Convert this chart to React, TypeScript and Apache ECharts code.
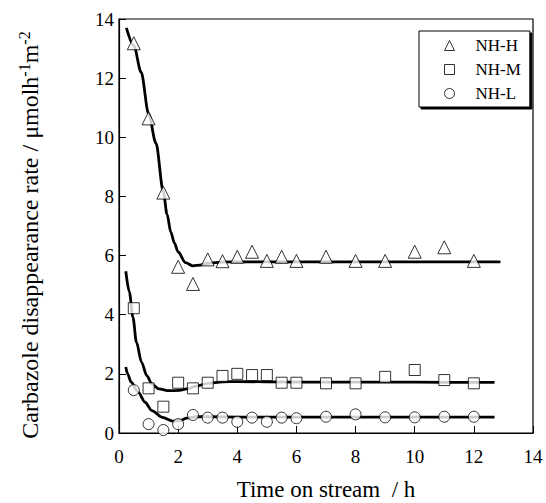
import React, { useEffect, useRef } from "react";
import * as echarts from "echarts";

const sampleTimes = [0.5, 1, 1.5, 2, 2.5, 3, 3.5, 4, 4.5, 5, 5.5, 6, 7, 8, 9, 10, 11, 12];
const nhH = [13.18, 10.64, 8.13, 5.62, 5.04, 5.87, 5.81, 5.96, 6.13, 5.82, 5.96, 5.82, 5.96, 5.82, 5.82, 6.13, 6.28, 5.82];
const nhM = [4.22, 1.51, 0.89, 1.7, 1.51, 1.7, 1.93, 2.0, 1.96, 1.96, 1.7, 1.7, 1.68, 1.68, 1.9, 2.13, 1.79, 1.68];
const nhL = [1.45, 0.3, 0.1, 0.3, 0.61, 0.52, 0.52, 0.38, 0.52, 0.38, 0.52, 0.5, 0.55, 0.63, 0.53, 0.53, 0.55, 0.55];

const fitHx = [0.25, 0.5, 0.75, 1, 1.25, 1.5, 1.625, 1.75, 1.875, 2, 2.25, 2.5, 2.75, 3, 3.5, 4, 5, 6, 8, 10, 12, 12.9];
const fitHy = [13.7, 13.1, 12.2, 10.8, 9.8, 8.15, 7.4, 6.8, 6.42, 6.12, 5.76, 5.65, 5.68, 5.74, 5.78, 5.79, 5.79, 5.79, 5.79, 5.79, 5.79, 5.79];
const fitMx = [0.23, 0.35, 0.47, 0.59, 0.76, 0.94, 1.11, 1.35, 1.7, 2.05, 2.29, 2.6, 3, 3.5, 4, 6, 8, 10, 12, 12.7];
const fitMy = [5.47, 4.77, 3.92, 3.07, 2.4, 1.94, 1.66, 1.49, 1.43, 1.44, 1.49, 1.58, 1.68, 1.73, 1.74, 1.72, 1.72, 1.72, 1.71, 1.71];
const fitLx = [0.23, 0.29, 0.41, 0.65, 0.88, 1.11, 1.47, 1.82, 2.05, 2.29, 2.6, 3, 4, 6, 8, 10, 12, 12.7];
const fitLy = [2.23, 2.0, 1.72, 1.38, 1.04, 0.76, 0.53, 0.4, 0.42, 0.5, 0.55, 0.55, 0.54, 0.54, 0.54, 0.54, 0.54, 0.54];

const seriesNames = ["NH-H", "NH-M", "NH-L"];

const zip = (xs: number[], ys: number[]) => xs.map((x, i) => [x, ys[i]]);

const FONT = "Liberation Serif";

export default function App() {
  const ref = useRef<HTMLDivElement>(null);
  useEffect(() => {
    if (!ref.current) return;
    const chart = echarts.init(ref.current, undefined, { renderer: "svg" });
    const fitLine = (xs: number[], ys: number[]) => ({
      type: "line",
      data: zip(xs, ys),
      smooth: 0.3,
      smoothMonotone: "x",
      symbol: "none",
      lineStyle: { color: "#000", width: 2.8 },
      z: 2,
      silent: true,
    });
    const marker = (name: string, symbol: string, size: number, ys: number[]) => ({
      type: "scatter",
      name,
      data: zip(sampleTimes, ys),
      symbol,
      symbolSize: size,
      itemStyle: { color: "#fff", borderColor: "#000", borderWidth: 1 },
      z: 3,
    });
    chart.setOption({
      animation: false,
      backgroundColor: "#fff",
      textStyle: { fontFamily: FONT, color: "#000", fontSize: 19 },
      grid: {
        left: 119,
        right: 13,
        top: 19,
        bottom: 70,
        containLabel: false,
        outerBoundsMode: "none",
        show: true,
        borderColor: "#000",
        borderWidth: 1.2,
      },
      legend: {
        data: seriesNames.map((n, i) => ({ name: n, icon: ["triangle", "rect", "circle"][i] })),
        orient: "vertical",
        left: 419,
        top: 31,
        padding: [6, 9, 5, 25],
        itemWidth: 10,
        itemHeight: 10,
        itemGap: 7,
        backgroundColor: "#fff",
        borderColor: "#000",
        borderWidth: 1,
        shadowColor: "#000",
        shadowBlur: 0,
        shadowOffsetX: 2,
        shadowOffsetY: 2,
        textStyle: { fontFamily: FONT, fontSize: 17, color: "#000", padding: [0, 0, 0, 16] },
        itemStyle: { color: "#fff", borderColor: "#000", borderWidth: 1 },
      },
      xAxis: {
        type: "value",
        min: 0,
        max: 14,
        interval: 2,
        name: "Time on stream  / h",
        nameLocation: "middle",
        nameGap: 45,
        nameTextStyle: { fontFamily: FONT, fontSize: 23, color: "#000" },
        axisLine: { show: true, lineStyle: { color: "#000", width: 1.2 } },
        axisTick: { show: true, inside: true, length: 7, lineStyle: { color: "#000" } },
        axisLabel: { show: true, fontFamily: FONT, fontSize: 19, color: "#000", margin: 14 },
        splitLine: { show: false },
      },
      yAxis: {
        type: "value",
        min: 0,
        max: 14,
        interval: 2,
        name: "Carbazole disappearance rate / μmolh{sup|-1}m{sup|-2}",
        nameLocation: "middle",
        nameGap: 76,
        nameTextStyle: {
          fontFamily: FONT,
          fontSize: 24,
          color: "#000",
          lineHeight: 27,
          padding: [0, 18, 0, 0],
          rich: {
            sup: { fontFamily: FONT, fontSize: 16, lineHeight: 16, verticalAlign: "top", color: "#000" },
          },
        },
        axisLine: { show: true, lineStyle: { color: "#000", width: 1.2 } },
        axisTick: { show: true, inside: true, length: 7, lineStyle: { color: "#000" } },
        axisLabel: { show: true, fontFamily: FONT, fontSize: 19, color: "#000", margin: 5 },
        splitLine: { show: false },
      },
      series: [
        fitLine(fitHx, fitHy),
        fitLine(fitMx, fitMy),
        fitLine(fitLx, fitLy),
        marker("NH-H", "triangle", 13, nhH),
        marker("NH-M", "rect", 11, nhM),
        marker("NH-L", "circle", 11, nhL),
      ],
    });
    return () => chart.dispose();
  }, []);
  return (
    <div
      ref={ref}
      style={{ position: "fixed", left: 0, top: 0, width: 546, height: 503 }}
    />
  );
}
